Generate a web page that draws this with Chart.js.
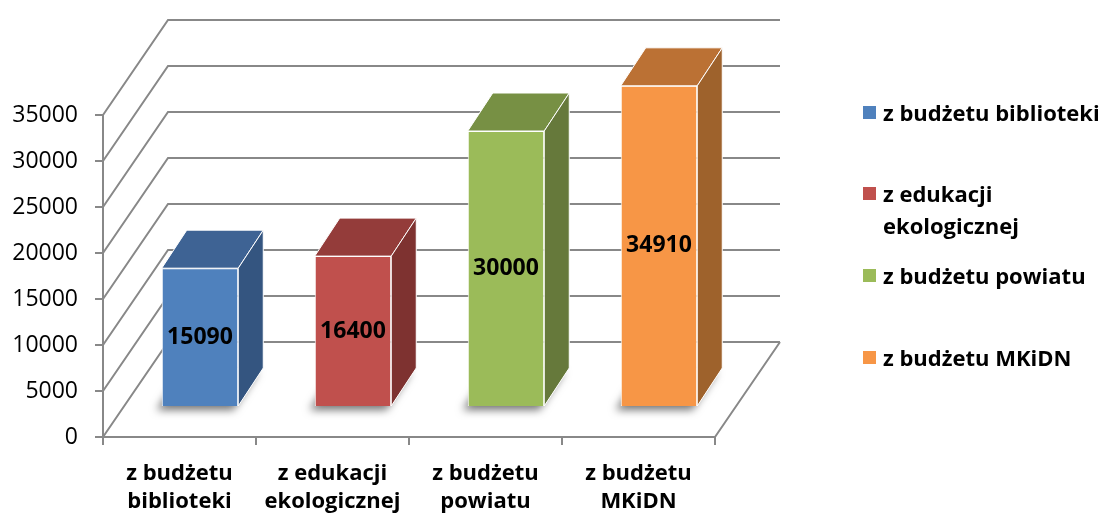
<!DOCTYPE html>
<html>
<head>
<meta charset="utf-8">
<script src="https://cdn.jsdelivr.net/npm/chart.js@4"></script>
<style>
    html, body { margin: 0; padding: 0; background: #fff; }
    #wrap { position: relative; width: 1103px; height: 514px; }
    #legend { position: absolute; left: 863px; top: 0; width: 240px;
              font-family: 'Open Sans', sans-serif; font-weight: bold; font-size: 22px; color: #000; }
    .legend-item { position: absolute; left: 0; width: 236px; line-height: 32px; padding-left: 20px; }
    .legend-box { position: absolute; left: 0; top: 10px; width: 13px; height: 13px; }
</style>
</head>
<body>
<div id="wrap">
    <canvas id="chart" width="1103" height="514"></canvas>
    <div id="legend"></div>
</div>
<script>
// --- DATA ---
const categories = ['z budżetu biblioteki', 'z edukacji ekologicznej', 'z budżetu powiatu', 'z budżetu MKiDN'];
const values = [15090, 16400, 30000, 34910];
const yMin = 0;
const yMax = 35000;
const yStep = 5000;

// --- COLOURS (front / top / side of each bar) ---
const frontColors = ['#4F81BD', '#C0504D', '#9BBB59', '#F79646'];
const topColors = ['#3E6394', '#943C3A', '#779044', '#BB7134'];
const sideColors = ['#345580', '#7E3230', '#66793B', '#9E622C'];

// --- 3D LOOK ---
const WALL_DX = 65, WALL_DY = -95;       // depth of the floor / back wall
const BAR_DX = 20.5, BAR_DY = -30;       // where the bar front faces sit
const BAR_DEPTH_X = 25, BAR_DEPTH_Y = -38;
const GRID_COLOR = '#888888';

function splitLabel(s) {
    const k = s.lastIndexOf(' ');
    return [s.slice(0, k), s.slice(k + 1)];
}

function poly(ctx, pts, fill, stroke) {
    ctx.beginPath();
    ctx.moveTo(pts[0][0], pts[0][1]);
    for (let i = 1; i < pts.length; i++) ctx.lineTo(pts[i][0], pts[i][1]);
    ctx.closePath();
    ctx.fillStyle = fill;
    ctx.fill();
    if (stroke) {
        ctx.strokeStyle = stroke;
        ctx.lineWidth = 1;
        ctx.stroke();
    }
}

function barBox(bar) {
    const p = bar.getProps(['x', 'y', 'base', 'width'], true);
    return {
        L: p.x - p.width / 2 + BAR_DX,
        R: p.x + p.width / 2 + BAR_DX,
        T: p.y + BAR_DY,
        B: p.base + BAR_DY,
        cx: p.x + BAR_DX
    };
}

const box3d = {
    id: 'box3d',
    beforeDatasetsDraw(chart) {
        const ctx = chart.ctx;
        const { left, right, bottom } = chart.chartArea;
        const yScale = chart.scales.y;

        // side wall diagonals + back wall gridlines
        ctx.save();
        ctx.strokeStyle = GRID_COLOR;
        ctx.lineWidth = 2;
        ctx.beginPath();
        for (let v = yMin; v <= yMax; v += yStep) {
            const py = yScale.getPixelForValue(v);
            ctx.moveTo(left, py);
            ctx.lineTo(left + WALL_DX, py + WALL_DY);
            ctx.lineTo(right + WALL_DX, py + WALL_DY);
        }
        // right edge of the floor
        ctx.moveTo(right, bottom);
        ctx.lineTo(right + WALL_DX, bottom + WALL_DY);
        ctx.stroke();

        // soft shadows at the feet of the bars
        const meta = chart.getDatasetMeta(0);
        meta.data.forEach(bar => {
            const b = barBox(bar);
            ctx.save();
            ctx.shadowColor = 'rgba(0,0,0,0.55)';
            ctx.shadowBlur = 9;
            ctx.shadowOffsetX = -5;
            ctx.shadowOffsetY = 4;
            poly(ctx, [[b.L, b.B], [b.R, b.B], [b.R + BAR_DEPTH_X, b.B + BAR_DEPTH_Y], [b.L + BAR_DEPTH_X, b.B + BAR_DEPTH_Y]], '#fff');
            ctx.restore();
        });
        ctx.restore();

        // front faces are drawn by Chart.js, pushed into the depth
        ctx.save();
        ctx.translate(BAR_DX, BAR_DY);
    },
    afterDatasetsDraw(chart) {
        const ctx = chart.ctx;
        ctx.restore();

        const meta = chart.getDatasetMeta(0);
        meta.data.forEach((bar, i) => {
            const b = barBox(bar);
            const dx = BAR_DEPTH_X, dy = BAR_DEPTH_Y;
            poly(ctx, [[b.L, b.T], [b.R, b.T], [b.R + dx, b.T + dy], [b.L + dx, b.T + dy]], topColors[i], '#fff');
            poly(ctx, [[b.R, b.T], [b.R + dx, b.T + dy], [b.R + dx, b.B + dy], [b.R, b.B]], sideColors[i], '#fff');

            // value label in the middle of the front face
            ctx.save();
            ctx.fillStyle = '#000';
            ctx.font = 'bold 23px "Open Sans", sans-serif';
            ctx.textAlign = 'center';
            ctx.textBaseline = 'middle';
            ctx.fillText(String(values[i]), b.cx, (b.T + b.B) / 2);
            ctx.restore();
        });
    }
};

const chart = new Chart(document.getElementById('chart'), {
    type: 'bar',
    data: {
        labels: categories,
        datasets: [{
            data: values,
            backgroundColor: frontColors,
            borderColor: '#fff',
            borderWidth: 1,
            barPercentage: 0.5,
            categoryPercentage: 1,
            clip: false
        }]
    },
    options: {
        responsive: false,
        animation: false,
        layout: { padding: { left: 0, top: 115, right: 388, bottom: 0 } },
        plugins: { legend: { display: false }, tooltip: { enabled: false } },
        scales: {
            x: {
                afterFit: scale => { scale.height = 77; },
                grid: { drawOnChartArea: false, offset: true, tickLength: 8, color: GRID_COLOR, lineWidth: 2 },
                border: { color: GRID_COLOR, width: 2 },
                ticks: {
                    color: '#000',
                    padding: 15,
                    maxRotation: 0,
                    font: { family: 'Open Sans', weight: 'bold', size: 22, lineHeight: 1.27 },
                    callback: function (v) { return splitLabel(this.getLabelForValue(v)); }
                }
            },
            y: {
                min: yMin,
                max: yMax,
                afterFit: scale => { scale.width = 103; },
                grid: { drawOnChartArea: false, tickLength: 8, color: GRID_COLOR, lineWidth: 2 },
                border: { color: GRID_COLOR, width: 2 },
                ticks: {
                    stepSize: yStep,
                    color: '#000',
                    padding: 17,
                    font: { family: 'Open Sans', size: 23 },
                    callback: v => String(v)
                }
            }
        }
    },
    plugins: [box3d]
});

// --- LEGEND ---
const legendEl = document.getElementById('legend');
const legendCenters = [112, 193, 275, 357];
categories.forEach((name, i) => {
    const item = document.createElement('div');
    item.className = 'legend-item';
    item.style.top = (legendCenters[i] - 16) + 'px';
    item.innerHTML = '<span class="legend-box" style="background:' + frontColors[i] + '"></span>' + name;
    legendEl.appendChild(item);
});
</script>
</body>
</html>
